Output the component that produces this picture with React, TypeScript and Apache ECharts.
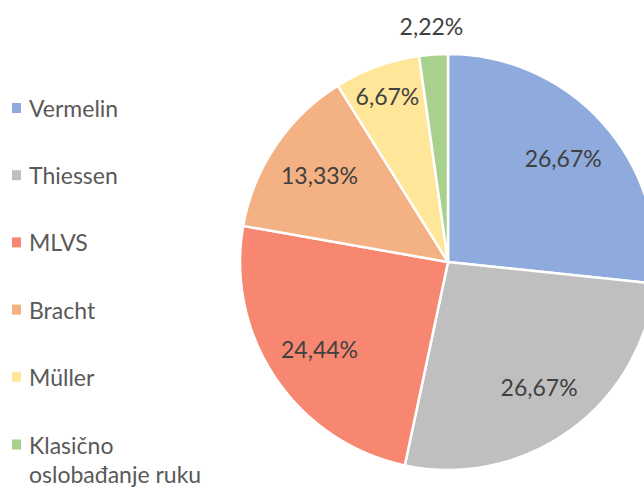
import React, { useEffect, useRef } from "react";
import * as echarts from "echarts";

const categories = ["Vermelin", "Thiessen", "MLVS", "Bracht", "Müller", "Klasično oslobađanje ruku"];
const legendLabels = ["Vermelin", "Thiessen", "MLVS", "Bracht", "Müller", " \nKlasično\noslobađanje ruku"];
const values = [12, 12, 11, 6, 3, 1];
const colors = ["#8FAADC", "#BFBFBF", "#F88771", "#F4B183", "#FFE699", "#A9D18E"];

// which overlay ring carries each slice's label
const labelRing = ["mid", "mid", "mid", "mid", "outerInner", "outside"];

const FONT = "Lato, 'Noto Sans', sans-serif";

export default function App() {
  const ref = useRef<HTMLDivElement>(null);

  useEffect(() => {
    if (!ref.current) return;
    const chart = echarts.init(ref.current, undefined, { renderer: "svg" });
    const CX = 448;
    const CY = 262;
    const R = 208;

    const fmt = (p: any) => p.percent.toFixed(2).replace(".", ",") + "%";

    const overlay = (ring: string, radius: [number, number]) => ({
      type: "pie",
      center: [CX, CY],
      radius,
      startAngle: 90,
      clockwise: true,
      silent: true,
      avoidLabelOverlap: false,
      emphasis: { disabled: true },
      labelLine: { show: false },
      itemStyle: { color: "rgba(0,0,0,0)", borderWidth: 0 },
      label: {
        position: "inside",
        formatter: fmt,
        color: "#404040",
        fontSize: 23,
        fontFamily: FONT,
      },
      data: categories.map((name, i) => ({
        name,
        value: values[i],
        itemStyle: { color: "rgba(0,0,0,0)" },
        label: { show: labelRing[i] === ring },
      })),
    });

    const legendLabel = (name: string) => legendLabels[categories.indexOf(name)];

    chart.setOption({
      animation: false,
      backgroundColor: "#ffffff",
      legend: [
        {
          orient: "vertical",
          left: 12,
          top: 96,
          padding: 0,
          itemWidth: 9,
          itemHeight: 10,
          itemGap: 43.2,
          selectedMode: false,
          icon: "rect",
          itemStyle: { borderWidth: 0 },
          data: categories.slice(0, 5),
          formatter: legendLabel,
          textStyle: {
            color: "#595959",
            fontSize: 23,
            lineHeight: 24,
            fontFamily: FONT,
            padding: [0, 0, 0, 3],
          },
        },
        {
          orient: "vertical",
          left: 12,
          top: 401,
          padding: 0,
          itemWidth: 9,
          itemHeight: 10,
          selectedMode: false,
          icon: "rect",
          itemStyle: { borderWidth: 0 },
          data: categories.slice(5),
          formatter: legendLabel,
          textStyle: {
            color: "#595959",
            fontSize: 23,
            lineHeight: 29,
            fontFamily: FONT,
            padding: [0, 0, 0, 3],
          },
        },
      ],
      series: [
        {
          type: "pie",
          center: [CX, CY],
          radius: R,
          startAngle: 90,
          clockwise: true,
          silent: true,
          emphasis: { disabled: true },
          label: { show: false },
          labelLine: { show: false },
          itemStyle: { borderColor: "#ffffff", borderWidth: 2.5 },
          data: categories.map((name, i) => ({
            name,
            value: values[i],
            itemStyle: { color: colors[i] },
          })),
        },
        overlay("mid", [96, R]),
        overlay("outerInner", [140, R]),
        overlay("outside", [R, 260]),
      ],
    });

    return () => chart.dispose();
  }, []);

  return (
    <div
      ref={ref}
      style={{ position: "absolute", left: 0, top: 0, width: 644, height: 488 }}
    />
  );
}
